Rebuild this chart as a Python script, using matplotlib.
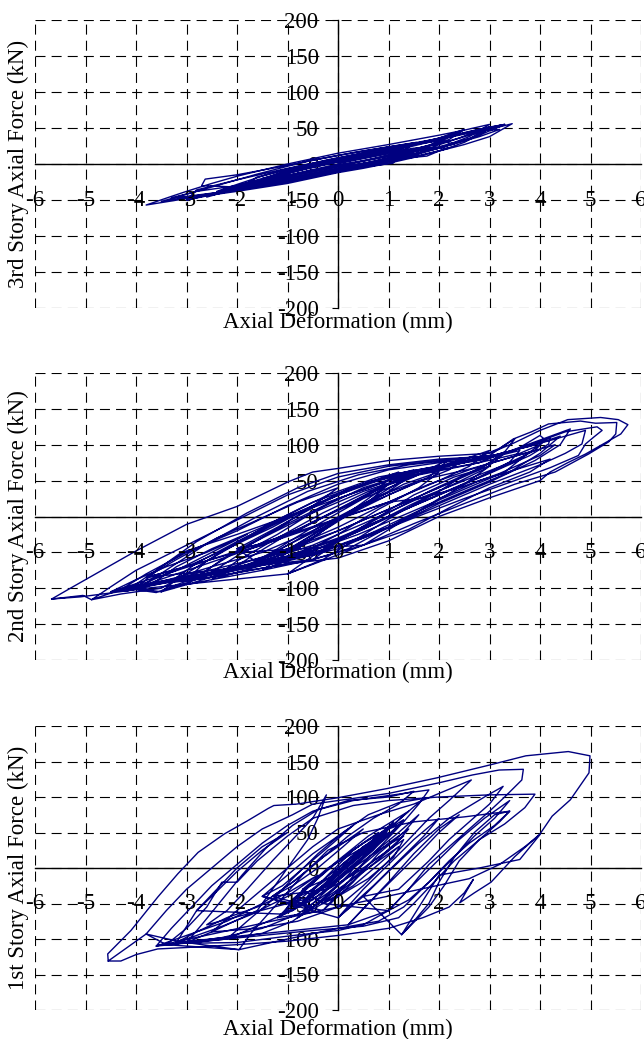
import matplotlib
matplotlib.use("Agg")
import matplotlib.pyplot as plt

plt.rcParams['font.family'] = ['Liberation Serif', 'DejaVu Serif']
plt.rcParams['axes.unicode_minus'] = False

# ---- data (mm, kN) ----
x_ticks = list(range(-6, 7))
y_ticks = list(range(-200, 201, 50))

# 3rd story
s3_def = [0.0, 1.0, 2.0, 2.6, 3.0, 3.45,
          3.0, 2.5, 2.0, 1.5, 1.0, 0.5, 0.0, -1.0, -2.0, -3.0, -3.8,
          -3.3, -3.0, -2.5, -2.0, -1.0, 0.0, 1.0, 2.0, 2.5, 3.0,
          2.6, 2.0, 1.0, 0.0, -1.0, -2.0, -2.6,
          -2.2, -1.5, -1.0, 0.0, 1.0, 2.0, 2.5,
          2.2, 1.6, 1.0, 0.0, -1.0, -2.0, -2.7,
          -2.63, -2.0, -1.0, 0.0, 1.0, 1.55,
          1.2, 1.09, 0.5, 0.0, -1.0, -2.0, -3.0, -3.3,
          -2.8, -2.0, -1.0, 0.0, 1.0, 1.76, 2.0, 2.5, 2.9, 3.0,
          2.6, 2.0, 1.0, 0.0, -1.0, -1.8,
          -1.2, -0.5, 0.5, 1.3, 1.9, 2.3, 2.5,
          2.0, 1.4, 0.5, -0.5, -1.5, -2.2,
          -1.6, -0.8, 0.0, 0.8, 1.4,
          0.9, 0.0, -0.9, -1.4,
          -0.6, 0.3, 1.2, 1.9, 2.2,
          1.8, 1.0, 0.0, -0.6,
          -3.0, -2.5, -2.0, -1.0, 0.0, 1.0, 2.0, 2.8, 3.2,
          2.8, 2.0, 1.0, 0.0, -1.0, -2.0, -2.8, -3.0,
          -2.0, -1.5, -0.5, 0.5, 1.5, 2.3,
          2.0, 1.2, 0.3, -0.7, -1.6, -2.0,
          -1.0, 0.0, 1.0, 1.6, 1.0, 0.0, -1.0, -1.5,
          -0.5, 0.5, 1.5, 2.2, 1.5, 0.5, -0.5, -1.2,
          3.3, 2.8, 2.2, 1.5, 0.8, 0.0, -1.0, -2.0, -3.0, -3.5,
          -3.0, -2.4, -1.6, -0.6, 0.4, 1.4, 2.2, 2.8, 3.3,
          2.9, 2.4, 1.8, 1.0, 0.2, -0.8, -1.8, -2.4,
          -1.9, -1.2, -0.2, 0.8, 1.8, 2.4, 2.9]
s3_force = [2, 14, 28, 40, 48, 56,
            38, 27, 18, 9, 1, -6, -12, -27, -38, -48, -57,
            -45, -38, -27, -17, 0, 15, 27, 40, 47, 55,
            38, 22, 5, -8, -22, -34, -46,
            -33, -22, -12, 4, 20, 36, 48,
            34, 20, 8, -6, -20, -32, -30,
            -21, -15, -2, 12, 24, 30,
            14, 1, -4, -10, -24, -36, -45, -47,
            -38, -30, -18, -4, 6, 11, 18, 30, 45, 52,
            35, 24, 10, -2, -16, -28,
            -14, -2, 12, 24, 34, 42, 48,
            30, 18, 4, -10, -24, -34,
            -22, -8, 6, 18, 26,
            14, 0, -14, -20,
            -6, 8, 20, 32, 38,
            26, 12, -2, -10,
            -50, -42, -34, -22, -8, 6, 22, 38, 48,
            46, 34, 22, 8, -6, -22, -36, -50,
            -36, -28, -14, 0, 14, 28,
            32, 24, 12, -4, -18, -36,
            -25, -10, 4, 12, 18, 6, -10, -20,
            -18, -4, 10, 22, 22, 10, -4, -16,
            55, 40, 26, 12, 2, -10, -25, -36, -46, -52,
            -42, -30, -14, 4, 17, 28, 38, 48, 55,
            50, 36, 22, 8, -4, -18, -30, -38,
            -26, -10, 6, 20, 32, 42, 50]

# 2nd story
s2_def = [-5.67, -5.3, -4.8, -4.0, -3.0, -2.0, -1.0, -0.5, 0.0, 1.0, 2.0, 3.0, 3.5, 4.0, 4.55, 5.2,
          5.55, 5.74, 5.6, 5.3, 4.9, 4.55, 4.2, 4.0, 3.0, 2.0, 1.0, 0.0, -1.0, -2.0, -3.0, -3.6,
          -4.0, -5.1, -5.67,
          -5.05, -4.88, -4.5, -4.0, -3.0, -2.0, -1.0, 0.0, 1.0, 2.0, 3.0, 3.47, 3.83, 4.17, 4.8,
          5.1, 5.52, 5.5, 5.36, 4.96, 4.3, 3.5, 2.5, 1.5, 0.5, -0.5, -1.5, -2.5, -3.3, -3.5, -4.3,
          -4.88,
          -4.3, -3.8, -3.0, -2.0, -1.0, 0.0, 1.0, 2.0, 3.0, 3.8, 4.5, 5.13, 5.23, 5.07, 4.9, 4.76,
          4.2, 3.5, 2.5, 1.5, 0.5, -0.5, -1.5, -2.5, -3.5, -4.3,
          -3.7, -3.2, -2.5, -1.5, -0.5, 0.5, 1.5, 2.5, 3.5, 4.0, 4.1, 4.2, 4.17, 3.8, 3.0, 2.0,
          1.0, 0.0, -1.0, -2.0, -3.0, -3.7,
          -3.3, -2.8, -2.0, -1.0, 0.0, 1.0, 2.0, 3.0, 3.8, 4.5, 4.9, 4.83, 4.5, 4.0, 3.0, 2.0,
          1.0, 0.0, -1.0, -2.0, -3.3,
          -2.8, -2.3, -1.5, -0.5, 0.5, 1.5, 2.5, 3.2, 3.5, 3.3, 2.8, 2.0, 1.0, 0.0, -1.0, -2.0,
          -2.8,
          -2.2, -1.7, -1.0, 0.0, 1.0, 2.0, 3.0, 2.6, 2.0, 1.0, 0.0, -1.0, -2.2,
          -1.8, -1.2, -0.5, 0.5, 1.5, 2.2, 1.8, 1.0, 0.0, -1.0, -1.8,
          -1.2, -0.6, 0.0, 0.8, 1.5, 1.0, 0.3, -0.5, -1.2,
          -0.8, -0.3, 0.3, 1.0, 0.6, 0.0, -0.8,
          -4.0, -3.5, -3.0, -2.0, -1.0, 0.0, 1.0, 2.0, 2.5, 2.2, 1.5, 0.5, -0.5, -1.5, -2.5, -3.2,
          -4.0,
          -3.5, -3.2, -2.6, -1.8, -0.8, 0.2, 1.2, 2.2, 3.2, 4.1, 3.9, 3.3, 2.5, 1.5, 0.5, -0.5,
          -1.5, -2.5, -3.5,
          -3.0, -2.5, -1.8, -1.0, 0.0, 1.0, 2.0, 2.8, 3.3, 3.0, 2.3, 1.5, 0.5, -0.5, -1.5, -2.3,
          -3.0,
          -2.5, -2.0, -1.2, -0.3, 0.6, 1.6, 2.6, 3.6, 4.0, 3.6, 2.8, 1.8, 0.8, -0.2, -1.2, -2.5,
          -1.5, -1.0, -0.3, 0.5, 1.3, 2.0, 1.6, 0.8, 0.0, -0.8, -1.5,
          -0.5, 0.0, 0.7, 1.5, 2.3, 3.0, 2.5, 1.8, 1.0, 0.2, -0.5,
          -3.8, -3.2, -2.4, -1.6, -0.8, 0.0, -0.5, -1.3, -2.2, -3.0, -3.8,
          -2.0, -1.4, -0.6, 0.3, 1.2, 0.8, 0.0, -0.8, -1.5, -2.0,
          0.5, 1.2, 2.0, 2.8, 3.5, 4.2, 3.8, 3.0, 2.2, 1.4, 0.5,
          -1.0, -0.5, 0.2, 1.0, 1.8, 2.5, 2.0, 1.2, 0.4, -0.3, -1.0,
          -4.5, -4.0, -3.4, -2.6, -1.8, -2.5, -3.2, -3.8, -4.5,
          1.0, 1.8, 2.6, 3.4, 4.3, 4.0, 3.2, 2.4, 1.6, 1.0,
          -4.2, -3.6, -2.8, -1.8, -0.8, 0.0, 1.0, 2.0, 3.0, 3.8, 4.4, 4.0, 3.4, 2.6, 1.6, 0.6,
          -0.4, -1.4, -2.4, -3.4, -4.2,
          -3.9, -3.3, -2.6, -1.6, -0.6, 0.4, 1.4, 2.4, 3.2, 3.9, 4.6, 4.4, 3.9, 3.0, 2.0, 1.0,
          0.0, -1.0, -2.0, -3.0, -3.9,
          -3.0, -2.6, -2.0, -1.2, -0.2, 0.8, 1.8, 2.8, 3.6, 3.4, 2.8, 2.0, 1.0, 0.0, -1.0, -2.0,
          -3.0,
          -2.6, -2.0, -1.2, -0.4, 0.5, 1.4, 2.4, 3.3, 2.9, 2.2, 1.4, 0.5, -0.5, -1.6, -2.6,
          -1.6, -1.0, -0.2, 0.7, 1.6, 2.6, 3.8, 3.3, 2.4, 1.4, 0.4, -0.6, -1.6,
          -2.0, -1.2, -0.3, 0.6, 1.5, 1.0, 0.2, -0.7, -1.5, -2.0]
s2_force = [-115, -100, -80, -48, -11, 14, 48, 62, 67, 78, 84, 88, 103, 120, 135, 138,
            135, 128, 115, 103, 87, 75, 62, 50, 26, 0, -34, -58, -66, -78, -90, -106,
            -102, -112, -115,
            -110, -116, -98, -75, -40, -5, 30, 55, 70, 78, 85, 108, 118, 129, 133,
            130, 131, 115, 104, 87, 62, 45, 18, -10, -40, -60, -72, -85, -92, -100, -108,
            -116,
            -102, -80, -50, -20, 15, 45, 65, 75, 82, 100, 118, 125, 120, 111, 101, 85,
            68, 50, 25, -2, -30, -52, -65, -78, -90, -102,
            -95, -70, -45, -15, 20, 45, 62, 75, 92, 113, 107, 110, 101, 85, 60, 30,
            0, -30, -55, -70, -85, -95,
            -90, -65, -35, 0, 30, 55, 70, 84, 98, 112, 120, 101, 88, 72, 45, 15,
            -15, -40, -60, -75, -90,
            -85, -60, -30, 5, 35, 58, 75, 95, 108, 90, 65, 40, 10, -20, -45, -68,
            -85,
            -78, -55, -25, 10, 45, 68, 92, 70, 50, 20, -15, -45, -78,
            -70, -45, -15, 25, 55, 80, 55, 30, -5, -40, -70,
            -55, -30, -5, 30, 60, 35, 10, -25, -55,
            -45, -20, 10, 45, 20, -5, -45,
            -100, -70, -48, -25, 0, 25, 50, 70, 80, 65, 45, 15, -20, -50, -70, -85,
            -100,
            -105, -88, -62, -30, 5, 38, 60, 73, 86, 107, 92, 72, 50, 22, -10, -40,
            -62, -80, -105,
            -95, -70, -40, -10, 25, 50, 65, 75, 90, 75, 50, 25, -5, -35, -60, -80,
            -95,
            -88, -62, -30, 5, 35, 58, 72, 88, 100, 80, 55, 25, -8, -40, -62, -88,
            -75, -50, -20, 15, 45, 62, 40, 10, -25, -55, -75,
            -60, -35, -5, 30, 55, 70, 45, 15, -15, -45, -60,
            -85, -60, -30, -5, 20, 40, 15, -15, -45, -70, -85,
            -50, -25, 10, 40, 62, 40, 10, -20, -40, -50,
            -40, -10, 25, 50, 65, 80, 62, 40, 12, -18, -40,
            -80, -55, -25, 5, 35, 58, 35, 5, -30, -60, -80,
            -105, -88, -70, -50, -25, -50, -75, -92, -105,
            20, 45, 65, 82, 100, 85, 60, 40, 25, 20,
            -104, -75, -35, 5, 40, 60, 72, 80, 84, 98, 112, 88, 62, 38, 8, -25,
            -52, -66, -78, -92, -104,
            -98, -70, -38, 0, 35, 58, 72, 80, 86, 104, 122, 100, 78, 48, 18, -15,
            -45, -62, -74, -86, -98,
            -88, -62, -36, -5, 30, 55, 68, 78, 92, 76, 55, 30, 0, -32, -56, -72,
            -88,
            -82, -55, -25, 10, 40, 60, 74, 88, 66, 42, 15, -18, -48, -68, -82,
            -64, -40, -8, 25, 50, 66, 90, 62, 35, 5, -25, -50, -64,
            -45, -15, 20, 48, 65, 45, 15, -15, -38, -45]

# 1st story
s1_def = [-4.55, -4.56, -4.1, -3.57, -3.17, -2.77, -2.25, -1.78, -1.38, -1.27, -0.82, 0.0, 0.98,
          1.96, 3.0, 3.72, 4.56, 4.99, 4.97, 4.6, 4.24, 4.0, 3.5, 3.03, 2.7, 2.41, 2.68, 2.5,
          2.2, 1.68, 1.0, 0.0, -1.0, -2.0, -3.0, -3.57, -4.0, -4.3, -4.55,
          -3.8, -3.4, -3.0, -2.5, -2.0, -1.5, -0.9, -0.5, 0.0, 1.0, 2.0, 2.66, 3.19, 3.67, 3.64,
          3.3, 3.0, 2.6, 2.2, 1.8, 1.4, 1.0, 0.5, 0.0, -1.0, -2.0, -3.0, -3.8,
          -3.4, -3.0, -2.6, -2.3, -2.0, -1.6, -1.0, -0.5, 0.3, 1.0, 2.0, 3.0, 3.9, 3.7, 3.3, 2.8,
          2.3, 1.9, 1.5, 1.2, 0.5, -0.5, -1.5, -2.5, -3.4,
          -1.96, -1.7, -1.2, -0.7, -0.2, 0.5, 1.5, 2.5, 3.4, 3.1, 2.6, 2.2, 1.8, 1.3, 0.8, 0.0,
          -1.0, -1.96,
          -3.0, -2.7, -2.3, -1.9, -1.4, -0.9, -0.4, 0.3, 1.0, 1.8, 1.6, 1.3, 0.9, 0.4, -0.2,
          -0.8, -1.5, -2.3, -3.0,
          -2.5, -2.0, -1.5, -1.0, -0.5, 0.0, 0.8, 1.5, 2.0, 2.64, 2.2, 1.8, 1.4, 1.0, 0.5, 0.0,
          -0.8, -1.6, -2.5,
          -2.2, -1.6, -1.2, -0.9, -0.6, -0.4, -0.23, -0.5, -0.9, -1.3, -1.8, -2.2, -2.6,
          -1.0, -0.5, 0.0, 0.5, 1.0, 1.2, 0.8, 0.3, -0.2, -0.7, -1.0,
          -0.8, -0.3, 0.2, 0.7, 1.1, 0.9, 0.4, -0.1, -0.5, -0.8,
          -0.6, -0.2, 0.3, 0.8, 0.6, 0.2, -0.3, -0.6,
          -0.4, 0.0, 0.5, 0.9, 0.5, 0.0, -0.4,
          -1.2, -0.7, -0.1, 0.6, 1.4, 1.0, 0.4, -0.2, -0.8, -1.2,
          -0.3, 0.2, 0.6, 1.2, 1.6, 1.3, 0.8, 0.3, -0.3,
          -1.5, -1.0, -0.5, 0.0, 0.3, -0.1, -0.6, -1.1, -1.5,
          0.0, 0.5, 1.0, 1.5, 2.0, 1.7, 1.2, 0.7, 0.0,
          0.5, 1.0, 1.6, 2.2, 2.9, 3.27, 3.0, 2.6, 2.2, 1.8, 1.2, 0.5,
          1.26, 1.5, 1.8, 2.0, 2.3, 2.7, 3.1, 3.4, 3.2, 2.8, 2.4, 2.1, 1.8, 1.26,
          2.0, 2.8, 3.6, 4.0, 3.7, 3.2, 2.6,
          -3.6, -3.3, -2.9, -2.5, -2.0, -1.5, -1.0, -0.5, 0.2, 1.0, 1.5, 1.2, 0.7, 0.2, -0.3,
          -0.9, -1.5, -2.2, -3.0, -3.6,
          -2.2, -1.8, -1.3, -0.9, -0.4, 0.1, 0.6, 1.2, 1.7, 1.4, 1.0, 0.6, 0.2, -0.3, -0.9,
          -1.5, -2.2,
          -0.9, -0.4, 0.1, 0.6, 1.0, 0.7, 0.2, -0.3, -0.9,
          -0.7, -0.2, 0.4, 0.9, 0.4, -0.2, -0.7,
          -0.3, 0.2, 0.7, 1.3, 1.1, 0.6, 0.0, -0.3,
          1.0, 1.4, 1.9, 2.4, 2.9, 3.4, 3.1, 2.7, 2.3, 1.8, 1.4, 1.0,
          0.2, 0.6, 1.0, 1.5, 2.0, 2.4, 2.0, 1.6, 1.1, 0.6, 0.2,
          -3.2, -2.8, -2.2, -1.6, -1.0, -0.4, -1.0, -1.7, -2.4, -3.2,
          -2.8, -2.4, -2.0, -1.5, -1.0, -1.5, -2.0, -2.5, -2.8,
          -1.1, -0.6, 0.0, 0.5, 1.0, 1.3, 1.0, 0.5, 0.0, -0.5, -1.1,
          -0.9, -0.4, 0.1, 0.6, 0.9, 0.5, 0.0, -0.5, -0.9,
          -0.5, 0.0, 0.5, 1.0, 1.4, 1.1, 0.6, 0.1, -0.5,
          -1.3, -0.8, -0.3, 0.2, 0.5, 0.1, -0.4, -0.9, -1.3,
          -0.2, 0.3, 0.8, 1.3, 0.9, 0.4, -0.2,
          -0.8, -0.3, 0.3, 0.8, 1.2, 0.8, 0.3, -0.3, -0.8]
s1_force = [-131, -121, -88, -41, -8, 22, 48, 67, 84, 88, 90, 99, 112,
            127, 145, 158, 164, 158, 134, 96, 73, 48, 16, -20, -35, -49, -16, -35,
            -55, -70, -85, -95, -103, -108, -112, -114, -122, -131, -131,
            -93, -60, -30, 0, 30, 55, 75, 90, 95, 105, 120, 131, 138, 139, 124,
            100, 80, 55, 30, 5, -30, -60, -80, -88, -96, -105, -106, -93,
            -108, -85, -55, -20, -20, 10, 45, 70, 88, 95, 100, 103, 104, 85, 62, 40,
            10, -20, -50, -70, -82, -88, -95, -102, -108,
            -115, -90, -50, -10, 25, 50, 65, 72, 80, 60, 35, 10, -20, -55, -75, -85,
            -100, -115,
            -105, -80, -45, -10, 30, 60, 82, 95, 102, 110, 90, 65, 35, 0, -35,
            -65, -85, -98, -105,
            -90, -60, -30, 0, 30, 55, 75, 90, 105, 124, 95, 70, 40, 10, -25, -55,
            -75, -85, -90,
            -80, -60, -20, 10, 40, 70, 103, 70, 40, 10, -30, -60, -80,
            -50, -20, 10, 35, 55, 60, 35, 5, -25, -45, -50,
            -55, -25, 10, 40, 65, 45, 15, -15, -40, -55,
            -40, -10, 25, 50, 30, 5, -25, -40,
            -35, 0, 30, 45, 20, -10, -35,
            -70, -35, 5, 45, 80, 55, 20, -20, -55, -70,
            -60, -20, 15, 50, 75, 50, 20, -20, -60,
            -40, -10, 20, 45, 60, 35, 5, -25, -40,
            -70, -30, 5, 40, 70, 45, 10, -25, -70,
            -40, -5, 35, 70, 100, 115, 90, 65, 40, 10, -30, -40,
            -94, -75, -50, -20, 15, 50, 75, 80, 65, 40, 10, -25, -55, -94,
            -10, 0, 12, 47, 30, 5, -15,
            -110, -85, -55, -25, 5, 35, 60, 80, 95, 100, 108, 90, 70, 45, 15,
            -20, -50, -75, -95, -110,
            -100, -75, -45, -15, 20, 50, 75, 92, 98, 80, 55, 25, -10, -45, -75,
            -92, -100,
            -60, -30, 0, 30, 50, 25, -5, -35, -60,
            -30, 0, 25, 40, 15, -15, -30,
            -50, -20, 10, 40, 15, -15, -40, -50,
            -60, -30, 5, 40, 70, 95, 70, 45, 15, -20, -45, -60,
            -80, -50, -20, 20, 55, 75, 50, 20, -15, -50, -80,
            -105, -90, -70, -55, -35, -10, -40, -65, -85, -105,
            -60, -30, 0, 30, 50, 25, -5, -40, -60,
            -65, -35, 0, 30, 55, 68, 45, 15, -15, -45, -65,
            -45, -15, 15, 40, 52, 25, -5, -30, -45,
            -55, -25, 5, 35, 55, 30, 0, -30, -55,
            -40, -15, 15, 40, 55, 30, 0, -25, -40,
            -30, 0, 25, 45, 20, -5, -30,
            -70, -45, -15, 10, 30, 5, -25, -50, -70]

panels = [
    ('3rd Story Axial Force (kN)', s3_def, s3_force),
    ('2nd Story Axial Force (kN)', s2_def, s2_force),
    ('1st Story Axial Force (kN)', s1_def, s1_force),
]

# axes boxes in figure pixels: (top, bottom) for each panel, 644 x 1039 figure
W, H = 644, 1039
boxes = [(20, 308), (373, 660), (726, 1010)]
xlabel_y = [-0.049, -0.045, -0.067]
FS = 16.5

fig = plt.figure(figsize=(W / 100, H / 100), dpi=100)

for (ylab, xs, ys), (top, bot), xly in zip(panels, boxes, xlabel_y):
    assert len(xs) == len(ys)
    ax = fig.add_axes([35 / W, 1 - bot / H, 606 / W, (bot - top) / H])
    ax.set_xlim(-6, 6)
    ax.set_ylim(-200, 200)
    ax.set_xticks(x_ticks)
    ax.set_yticks(y_ticks)
    ax.grid(True, color='black', lw=0.8, linestyle=(0, (9, 5.5)))
    for gl in ax.get_xgridlines() + ax.get_ygridlines():
        gl.set_clip_on(False)
    ax.spines['top'].set_visible(False)
    ax.spines['right'].set_visible(False)
    ax.spines['left'].set_position(('data', 0))
    ax.spines['bottom'].set_position(('data', 0))
    for s in ('left', 'bottom'):
        ax.spines[s].set_linewidth(1.0)
    ax.tick_params(axis='x', length=0, labelbottom=False)
    ax.tick_params(axis='y', direction='out', length=4, width=0.8, pad=10, labelsize=FS)
    ax.set_yticklabels([str(v) for v in y_ticks])
    for v in x_ticks:
        ax.text(v, -50, str(v), ha='center', va='center', fontsize=FS, zorder=4)

    ax.plot(xs, ys, color='#000080', lw=1.0, zorder=3)

    ax.set_xlabel('Axial Deformation (mm)', fontsize=FS, va='center')
    ax.xaxis.set_label_coords(0.5, xly)
    ax.set_ylabel(ylab, fontsize=FS, va='center')
    ax.yaxis.set_label_coords(-0.028, 0.5)

fig.savefig('out.png', dpi=100)
